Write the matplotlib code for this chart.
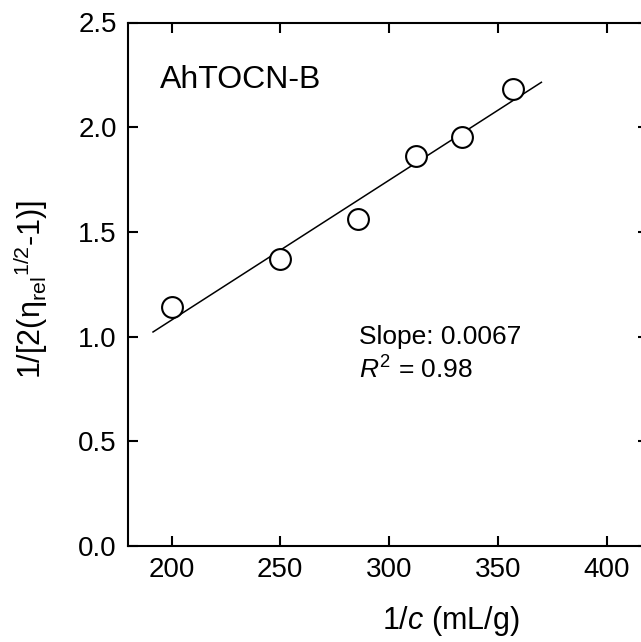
import numpy as np
import matplotlib
matplotlib.use("Agg")
import matplotlib.pyplot as plt

plt.rcParams["font.family"] = ["Liberation Sans", "DejaVu Sans"]
plt.rcParams["mathtext.fontset"] = "custom"
plt.rcParams["mathtext.rm"] = "Liberation Sans"
plt.rcParams["mathtext.it"] = "Liberation Sans:italic"

# data
inv_c = [200, 250, 285.7, 312.5, 333.3, 357.1]
inv_eta = [1.142, 1.370, 1.562, 1.862, 1.954, 2.181]
fit_x = [191.5, 370.0]
x_ticks = [200, 250, 300, 350, 400]
y_ticks = [0.0, 0.5, 1.0, 1.5, 2.0, 2.5]

slope, icpt = np.polyfit(inv_c, inv_eta, 1)

fig = plt.figure(figsize=(6.41, 6.42), dpi=100)
ax = fig.add_axes([128 / 641, 1 - 546 / 642, (648 - 128) / 641, (546 - 22.5) / 642])

ax.plot(fit_x, [slope * x + icpt for x in fit_x], color="black", lw=1.1, zorder=2)
ax.plot(inv_c, inv_eta, "o", ms=15, mfc="white", mec="black", mew=1.5, zorder=3)

ax.set_xlim(180, 419)
ax.set_ylim(0, 2.5)
ax.set_xticks(x_ticks)
ax.set_yticks(y_ticks)
ax.set_yticklabels([f"{v:.1f}" for v in y_ticks])
ax.tick_params(direction="in", length=7, width=1.5, labelsize=20,
               top=True, right=True, pad=8)
for s in ax.spines.values():
    s.set_linewidth(1.5)

ax.set_xlabel("1/$c$ (mL/g)", fontsize=22, va="center")
ax.xaxis.set_label_coords(0.621, -0.143)
ax.set_ylabel(r"1/[2(η$_{\rm rel}$$^{1/2}$-1)]", fontsize=22, va="center")
ax.yaxis.set_label_coords(-0.188, 0.49)

ax.text(194.9, 2.224, "AhTOCN-B", fontsize=23, va="center", ha="left")
ax.text(286, 1.0, "Slope: 0.0067", fontsize=19, va="center", ha="left")
ax.text(286, 0.84, r"$R^2$ = 0.98", fontsize=19, va="center", ha="left")

fig.savefig("out.png", dpi=100)
